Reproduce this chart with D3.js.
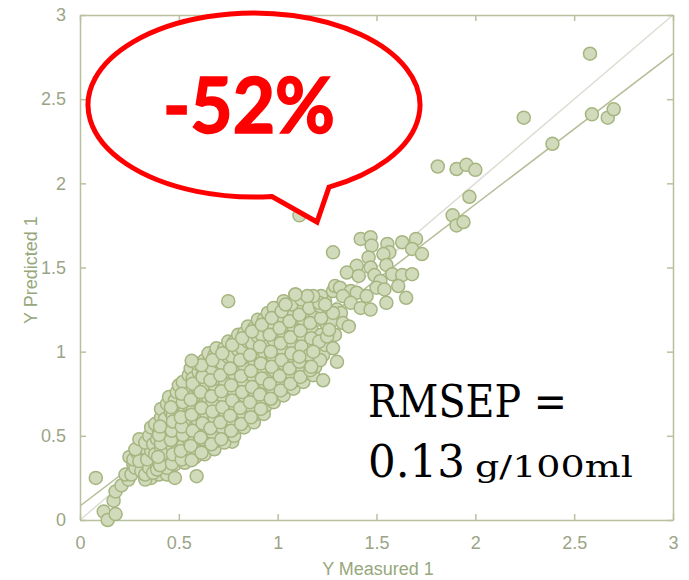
<!DOCTYPE html>
<html>
<head>
<meta charset="utf-8">
<script src="https://cdn.jsdelivr.net/npm/d3@7"></script>
<style>
  html, body { margin: 0; padding: 0; background: #ffffff; }
  svg { display: block; }
</style>
</head>
<body>
<svg id="chart" width="689" height="580"></svg>
<script>
// Axis ticks (same for both axes)
const xTicks = [0, 0.5, 1, 1.5, 2, 2.5, 3];
const yTicks = [0, 0.5, 1, 1.5, 2, 2.5, 3];

// Measured vs predicted samples: [measured, predicted]
const lowTail = [
  [0.12,0.05],[0.14,0.00],[0.18,0.035],[0.17,0.115],[0.18,0.17],[0.21,0.205],
  [0.245,0.24],[0.23,0.27],[0.25,0.375],[0.27,0.33],[0.295,0.395],[0.32,0.30],
  [0.345,0.355],[0.39,0.42],[0.405,0.31],[0.445,0.455],[0.44,0.585],[0.515,0.435],
  [0.555,0.435],[0.605,0.635],[0.66,0.495],[0.71,0.69],[0.76,0.75],[0.77,0.465],
  [0.36,0.25],[0.40,0.27],[0.33,0.24],[0.44,0.27]
];

const mainCluster = [
  [0.26,0.27],[0.28,0.31],[0.27,0.36],[0.29,0.40],[0.31,0.29],[0.30,0.35],[0.32,0.43],[0.28,0.42],[0.30,0.48],
  [0.33,0.27],[0.35,0.31],[0.34,0.36],[0.36,0.41],[0.33,0.46],[0.35,0.50],[0.37,0.28],[0.37,0.45],[0.36,0.55],
  [0.39,0.30],[0.40,0.35],[0.38,0.39],[0.41,0.43],[0.39,0.48],[0.40,0.53],[0.38,0.57],[0.41,0.61],[0.42,0.33],[0.42,0.50],[0.41,0.66],
  [0.44,0.31],[0.45,0.36],[0.43,0.40],[0.46,0.45],[0.44,0.50],[0.45,0.55],[0.43,0.60],[0.46,0.64],[0.44,0.69],[0.45,0.73],
  [0.48,0.33],[0.49,0.38],[0.47,0.43],[0.50,0.47],[0.48,0.52],[0.49,0.57],[0.47,0.62],[0.50,0.66],[0.48,0.71],[0.49,0.76],[0.50,0.80],
  [0.53,0.34],[0.54,0.39],[0.52,0.44],[0.55,0.48],[0.53,0.53],[0.54,0.58],[0.52,0.63],[0.55,0.68],[0.53,0.72],[0.54,0.77],[0.52,0.82],[0.55,0.86],[0.56,0.90],
  [0.58,0.37],[0.59,0.42],[0.57,0.46],[0.60,0.51],[0.58,0.55],[0.59,0.60],[0.57,0.65],[0.60,0.70],[0.58,0.74],[0.59,0.79],[0.57,0.84],[0.60,0.88],[0.59,0.93],
  [0.63,0.39],[0.64,0.44],[0.62,0.48],[0.65,0.53],[0.63,0.58],[0.64,0.62],[0.62,0.67],[0.65,0.72],[0.63,0.77],[0.64,0.81],[0.62,0.86],[0.65,0.90],[0.63,0.95],[0.65,0.99],
  [0.68,0.42],[0.69,0.47],[0.67,0.52],[0.70,0.56],[0.68,0.61],[0.69,0.66],[0.67,0.70],[0.70,0.75],[0.68,0.80],[0.69,0.84],[0.67,0.89],[0.70,0.94],[0.68,0.98],[0.69,1.02],
  [0.73,0.46],[0.74,0.51],[0.72,0.55],[0.75,0.60],[0.73,0.65],[0.74,0.69],[0.72,0.74],[0.75,0.79],[0.73,0.83],[0.74,0.88],[0.72,0.93],[0.75,0.97],[0.73,1.02],[0.75,1.06],
  [0.78,0.50],[0.79,0.55],[0.77,0.59],[0.80,0.64],[0.78,0.69],[0.79,0.73],[0.77,0.78],[0.80,0.83],[0.78,0.87],[0.79,0.92],[0.77,0.97],[0.80,1.01],[0.78,1.06],[0.80,1.10],
  [0.83,0.55],[0.84,0.60],[0.82,0.64],[0.85,0.69],[0.83,0.74],[0.84,0.78],[0.82,0.83],[0.85,0.88],[0.83,0.92],[0.84,0.97],[0.82,1.02],[0.85,1.06],[0.83,1.11],[0.85,1.15],
  [0.88,0.58],[0.89,0.63],[0.87,0.67],[0.90,0.72],[0.88,0.77],[0.89,0.81],[0.87,0.86],[0.90,0.91],[0.88,0.95],[0.89,1.00],[0.87,1.05],[0.90,1.09],[0.88,1.14],[0.90,1.19],
  [0.93,0.63],[0.94,0.68],[0.92,0.72],[0.95,0.77],[0.93,0.82],[0.94,0.86],[0.92,0.91],[0.95,0.96],[0.93,1.00],[0.94,1.05],[0.92,1.10],[0.95,1.14],[0.93,1.19],[0.95,1.23],
  [0.98,0.70],[0.99,0.75],[0.97,0.79],[1.00,0.84],[0.98,0.89],[0.99,0.93],[0.97,0.98],[1.00,1.03],[0.98,1.07],[0.99,1.12],[0.97,1.17],[1.00,1.21],[0.98,1.26],
  [1.03,0.74],[1.04,0.79],[1.02,0.83],[1.05,0.88],[1.03,0.93],[1.04,0.97],[1.02,1.02],[1.05,1.07],[1.03,1.11],[1.04,1.16],[1.02,1.21],[1.05,1.25],[1.03,1.30],
  [1.08,0.78],[1.09,0.83],[1.07,0.87],[1.10,0.92],[1.08,0.97],[1.09,1.01],[1.07,1.06],[1.10,1.11],[1.08,1.15],[1.09,1.20],[1.07,1.25],[1.10,1.29],[1.09,1.34],
  [1.13,0.82],[1.14,0.87],[1.12,0.91],[1.15,0.96],[1.13,1.01],[1.14,1.05],[1.12,1.10],[1.15,1.15],[1.13,1.19],[1.14,1.24],[1.12,1.29],[1.15,1.32],
  [1.18,0.86],[1.19,0.91],[1.17,0.96],[1.20,1.00],[1.18,1.05],[1.19,1.10],[1.17,1.14],[1.20,1.19],[1.18,1.24],[1.19,1.28],
  [1.23,0.98],[1.24,1.04],[1.22,1.10],[1.25,1.16],[1.23,1.22],[1.24,1.30],[1.22,1.33],
  [1.28,1.02],[1.29,1.10],[1.27,1.18],[1.30,1.25],[1.28,1.36]
];

// Second pass through the dense core, between the rows above
const clusterCore = [
  [0.405,0.325],[0.395,0.375],[0.41,0.455],[0.40,0.505],[0.405,0.555],
  [0.465,0.335],[0.47,0.39],[0.46,0.475],[0.465,0.53],[0.47,0.585],[0.46,0.67],
  [0.515,0.36],[0.51,0.41],[0.52,0.505],[0.515,0.555],[0.51,0.61],[0.52,0.70],[0.515,0.75],
  [0.565,0.355],[0.56,0.44],[0.57,0.53],[0.565,0.625],[0.56,0.715],[0.57,0.81],
  [0.615,0.40],[0.61,0.49],[0.62,0.575],[0.615,0.665],[0.61,0.76],[0.62,0.85],[0.615,0.92],
  [0.665,0.45],[0.66,0.545],[0.67,0.645],[0.665,0.735],[0.66,0.83],[0.67,0.95],
  [0.715,0.48],[0.71,0.58],[0.72,0.67],[0.715,0.765],[0.71,0.86],[0.72,0.99],
  [0.765,0.53],[0.76,0.62],[0.77,0.71],[0.765,0.80],[0.76,0.90],[0.77,1.04],
  [0.815,0.57],[0.81,0.665],[0.82,0.76],[0.815,0.855],[0.81,0.95],[0.82,1.08],
  [0.865,0.61],[0.86,0.70],[0.87,0.79],[0.865,0.885],[0.86,0.98],[0.87,1.12],
  [0.915,0.66],[0.91,0.745],[0.92,0.84],[0.915,0.93],[0.91,1.03],[0.92,1.16],
  [0.965,0.72],[0.96,0.81],[0.97,0.91],[0.965,1.00],[0.96,1.10],[0.97,1.20],
  [1.015,0.77],[1.01,0.855],[1.02,0.95],[1.015,1.05],[1.01,1.14],[1.02,1.24],
  [1.065,0.81],[1.06,0.90],[1.07,0.99],[1.065,1.085],[1.06,1.18],[1.07,1.28],
  [1.115,0.85],[1.11,0.94],[1.12,1.03],[1.115,1.125],[1.11,1.22],[1.12,1.31],
  [1.165,0.89],[1.16,0.98],[1.17,1.08],[1.165,1.17],[1.16,1.26],
  [1.215,0.95],[1.21,1.06],[1.22,1.20],[1.215,1.27]
];

const upperTail = [
  [1.42,1.67],[1.47,1.68],[1.475,1.63],[1.28,1.59],[1.555,1.64],[1.565,1.59],[1.535,1.58],
  [1.63,1.65],[1.70,1.67],[1.68,1.61],[1.73,1.58],[1.46,1.56],[1.40,1.51],[1.35,1.47],
  [1.41,1.45],[1.47,1.50],[1.49,1.455],[1.55,1.515],[1.58,1.46],[1.63,1.455],[1.68,1.46],
  [1.52,1.42],[1.50,1.38],[1.54,1.37],[1.61,1.39],[1.65,1.32],[1.55,1.29],[1.29,1.39],
  [1.315,1.38],[1.37,1.36],[1.40,1.35],[1.45,1.33],[1.33,1.33],[1.37,1.29],[1.42,1.26],
  [1.47,1.25],[1.32,1.23],[1.28,1.23],[1.33,1.17],[1.36,1.15],[1.30,0.94],[1.23,0.83],
  [1.21,1.29],[1.24,1.28],[1.18,1.33],[1.15,1.33],[1.09,1.34],[1.04,1.28],[1.25,1.09],
  [1.26,1.13],[1.18,1.00],[1.17,0.91],[1.11,0.97]
];

const outliers = [
  [0.08,0.25],[0.48,0.25],[0.59,0.26],[0.75,1.30],[0.565,0.946],[1.11,1.81],
  [1.81,2.10],[1.905,2.085],[1.955,2.11],[2.00,2.08],[1.97,1.92],[1.885,1.81],
  [1.905,1.75],[1.94,1.77],[2.245,2.39],[2.39,2.235],[2.58,2.77],[2.59,2.41],
  [2.67,2.39],[2.70,2.44]
];

// Fitted regression line (predicted = intercept + slope * measured)
const fitIntercept = 0.083;
const fitSlope = 0.896;

// Annotations
const changeLabel = "-52%";
const errorLabel = ["RMSEP =", "0.13", "g/100ml"];

const svg = d3.select("#chart");
const x = d3.scaleLinear().domain([0, 3]).range([80, 673]);
const y = d3.scaleLinear().domain([0, 3]).range([520, 15]);

const axisColor = "#b9c0a0";
const tickTextColor = "#9ba487";
const titleColor = "#97a77c";

// Reference lines: identity and regression
svg.append("line")
  .attr("x1", x(0)).attr("y1", y(0)).attr("x2", x(3)).attr("y2", y(3))
  .attr("stroke", "#dcded3").attr("stroke-width", 1.5);
svg.append("line")
  .attr("x1", x(0)).attr("y1", y(fitIntercept))
  .attr("x2", x(3)).attr("y2", y(fitIntercept + fitSlope * 3))
  .attr("stroke", "#b4bd97").attr("stroke-width", 1.5);

// Axes with inward ticks on all four sides
function styleAxis(g) {
  g.select(".domain").attr("stroke", axisColor).attr("stroke-width", 1.5);
  g.selectAll(".tick line").attr("stroke", axisColor).attr("stroke-width", 1.5);
  g.selectAll(".tick text")
    .attr("fill", tickTextColor)
    .attr("font-family", "'Liberation Sans', Arial, sans-serif")
    .attr("font-size", 18);
}
svg.append("g").attr("transform", `translate(0,${y(0)})`)
  .call(d3.axisBottom(x).tickValues(xTicks).tickFormat(d => String(d)).tickSizeInner(-6).tickSizeOuter(0).tickPadding(16))
  .call(styleAxis);
svg.append("g").attr("transform", `translate(0,${y(3)})`)
  .call(d3.axisTop(x).tickValues(xTicks).tickFormat("").tickSizeInner(-6).tickSizeOuter(0))
  .call(styleAxis);
svg.append("g").attr("transform", `translate(${x(0)},0)`)
  .call(d3.axisLeft(y).tickValues(yTicks).tickFormat(d => String(d)).tickSizeInner(-6).tickSizeOuter(0).tickPadding(14))
  .call(styleAxis);
svg.append("g").attr("transform", `translate(${x(3)},0)`)
  .call(d3.axisRight(y).tickValues(yTicks).tickFormat("").tickSizeInner(-6).tickSizeOuter(0))
  .call(styleAxis);

// Axis titles
svg.append("text")
  .attr("x", 378).attr("y", 575)
  .attr("text-anchor", "middle")
  .attr("fill", titleColor)
  .attr("font-family", "'Liberation Sans', Arial, sans-serif")
  .attr("font-size", 18)
  .text("Y Measured 1");
svg.append("text")
  .attr("transform", "translate(37,270) rotate(-90)")
  .attr("text-anchor", "middle")
  .attr("fill", titleColor)
  .attr("font-family", "'Liberation Sans', Arial, sans-serif")
  .attr("font-size", 18)
  .text("Y Predicted 1");

// Scatter points
const allSamples = [].concat(lowTail, mainCluster, clusterCore, upperTail, outliers);
svg.append("g").selectAll("circle")
  .data(allSamples)
  .join("circle")
  .attr("cx", d => x(d[0]))
  .attr("cy", d => y(d[1]))
  .attr("r", 6.5)
  .attr("fill", "#d1dbbb")
  .attr("stroke", "#a6b580")
  .attr("stroke-width", 1.5);

// Speech-bubble callout: ellipse with a wedge pointing down-right
const cx = 254, cy = 105, rx = 166, ry = 92;
const t1 = Math.acos((272 - cx) / rx), t2 = Math.acos((329 - cx) / rx);
const p1 = [cx + rx * Math.cos(t1), cy + ry * Math.sin(t1)];
const p2 = [cx + rx * Math.cos(t2), cy + ry * Math.sin(t2)];
svg.append("path")
  .attr("d", `M${p1[0]},${p1[1]} A${rx},${ry} 0 1 1 ${p2[0]},${p2[1]} L317,222 Z`)
  .attr("fill", "#ffffff")
  .attr("stroke", "#ff0000")
  .attr("stroke-width", 5)
  .attr("stroke-linejoin", "miter");

svg.append("text")
  .attr("x", 163).attr("y", 133)
  .attr("fill", "#ff0000")
  .attr("stroke", "#ff0000")
  .attr("stroke-width", 1.6)
  .attr("font-family", "Lato, 'Open Sans', sans-serif")
  .attr("font-weight", "bold")
  .attr("font-size", 76)
  .attr("textLength", 172)
  .attr("lengthAdjust", "spacingAndGlyphs")
  .text(changeLabel);

// RMSEP note
const serif = "'DejaVu Serif', 'Liberation Serif', serif";
svg.append("text")
  .attr("x", 368).attr("y", 417)
  .attr("fill", "#000000").attr("font-family", serif).attr("font-size", 44)
  .attr("textLength", 199).attr("lengthAdjust", "spacingAndGlyphs")
  .text(errorLabel[0]);
svg.append("text")
  .attr("x", 368).attr("y", 477)
  .attr("fill", "#000000").attr("font-family", serif).attr("font-size", 45)
  .attr("textLength", 97).attr("lengthAdjust", "spacingAndGlyphs")
  .text(errorLabel[1]);
svg.append("text")
  .attr("x", 475).attr("y", 477)
  .attr("fill", "#000000").attr("font-family", serif).attr("font-size", 30)
  .attr("textLength", 158).attr("lengthAdjust", "spacingAndGlyphs")
  .text(errorLabel[2]);
</script>
</body>
</html>
